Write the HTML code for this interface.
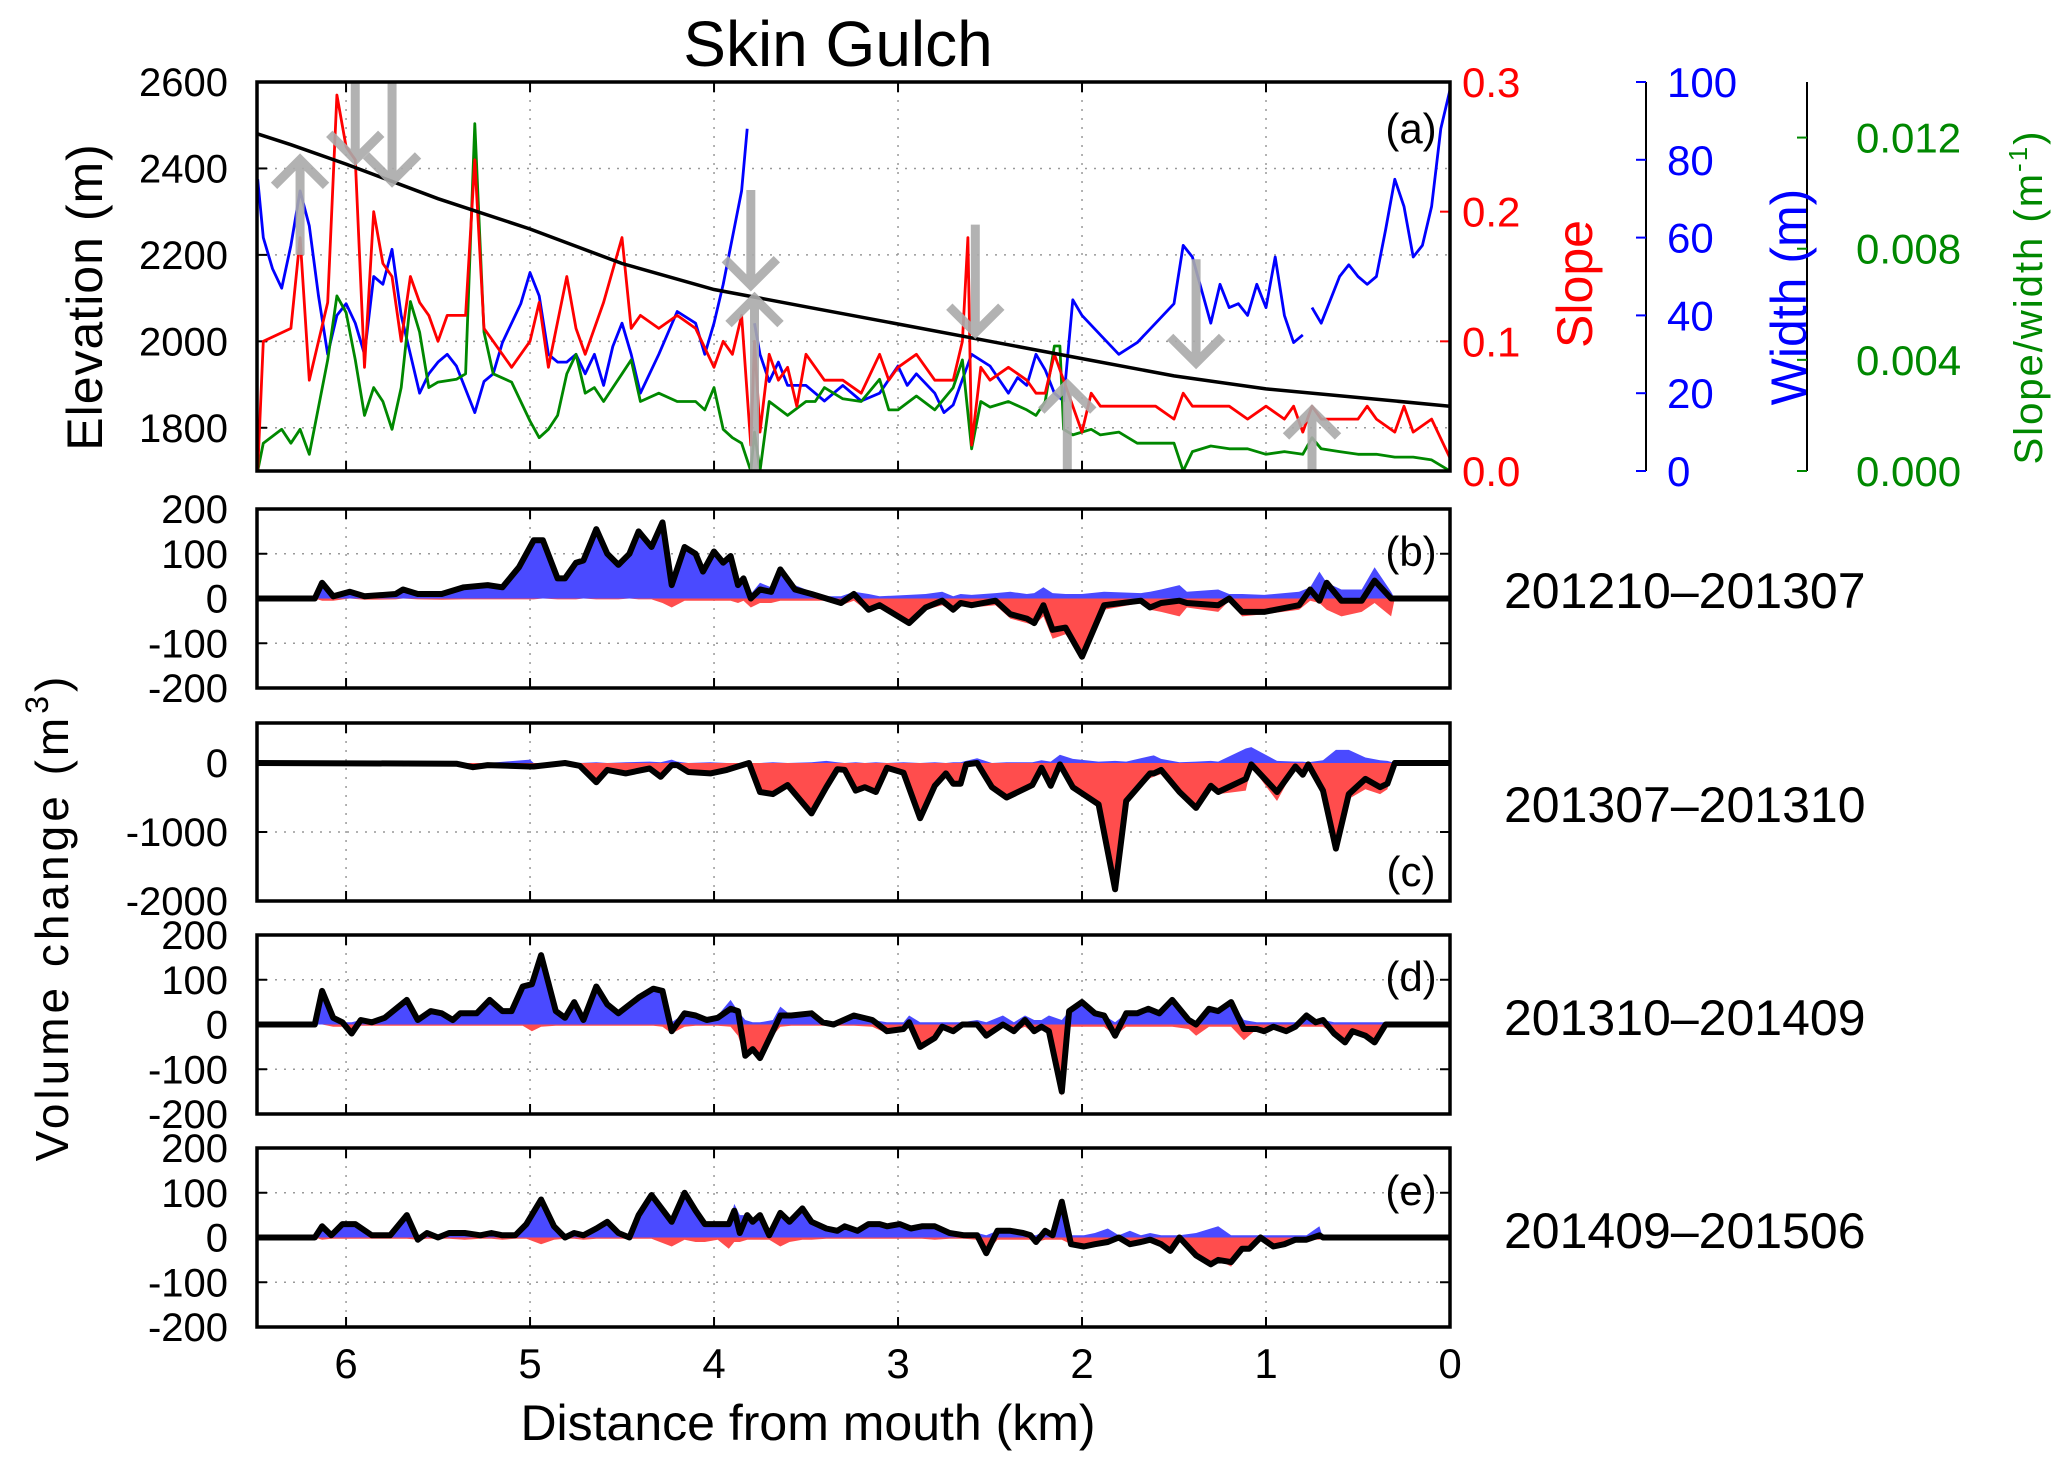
<!DOCTYPE html>
<html><head><meta charset="utf-8"><style>
html,body{margin:0;padding:0;background:#fff}
svg{display:block;font-family:"Liberation Sans",Arial,sans-serif}
</style></head><body>
<svg id="chart" width="2067" height="1467" viewBox="0 0 2067 1467" xmlns="http://www.w3.org/2000/svg">
<rect width="2067" height="1467" fill="#fff"/>
<defs>
<clipPath id="clipA"><rect x="257" y="82" width="1193" height="389"/></clipPath>
</defs>
<text x="838" y="66" font-size="64" text-anchor="middle">Skin Gulch</text>
<g id="gA"></g>
<g id="gB"></g>
<g id="gC"></g>
<g id="gD"></g>
<g id="gE"></g>
<text transform="translate(102,297) rotate(-90)" font-size="50" text-anchor="middle" letter-spacing="1">Elevation (m)</text>
<text transform="translate(68,917) rotate(-90)" font-size="46" text-anchor="middle" letter-spacing="4">Volume change (m<tspan font-size="32" dy="-20">3</tspan><tspan dy="20">)</tspan></text>
<text x="808" y="1440" font-size="50" text-anchor="middle">Distance from mouth (km)</text>
<text transform="translate(1592,284) rotate(-90)" font-size="50" fill="#f00" text-anchor="middle">Slope</text>
<text transform="translate(1806,297) rotate(-90)" font-size="50" fill="#00f" text-anchor="middle">Width (m)</text>
<text transform="translate(2042,297) rotate(-90)" font-size="40" fill="#080" text-anchor="middle" letter-spacing="2">Slope/width (m<tspan font-size="26" dy="-15">-1</tspan><tspan dy="15">)</tspan></text>
<text x="1504" y="608" font-size="50">201210–201307</text>
<text x="1504" y="822" font-size="50">201307–201310</text>
<text x="1504" y="1035" font-size="50">201310–201409</text>
<text x="1504" y="1248" font-size="50">201409–201506</text>
</svg>
<script>
const NS="http://www.w3.org/2000/svg";
// ---- Panel (a) data ----
const elevKm=[6.48,6.3,6,5.5,5,4.5,4,3.5,3,2.5,2,1.5,1,0.5,0];
const elev=[2480,2455,2410,2330,2260,2180,2120,2080,2040,2000,1960,1920,1890,1870,1850];
const slopeKm=[6.48,6.45,6.3,6.25,6.2,6.15,6.1,6.05,6.0,5.95,5.9,5.85,5.8,5.75,5.7,5.65,5.6,5.55,5.5,5.45,5.35,5.3,5.25,5.2,5.1,5.0,4.95,4.9,4.8,4.75,4.7,4.6,4.5,4.45,4.4,4.3,4.2,4.1,4.0,3.95,3.9,3.85,3.8,3.78,3.75,3.7,3.65,3.6,3.55,3.5,3.4,3.3,3.2,3.1,3.05,3.0,2.9,2.8,2.7,2.65,2.62,2.6,2.55,2.5,2.4,2.3,2.25,2.2,2.15,2.1,2.05,2.0,1.95,1.9,1.8,1.7,1.6,1.5,1.45,1.4,1.3,1.2,1.1,1.0,0.9,0.85,0.8,0.75,0.7,0.6,0.5,0.45,0.4,0.3,0.25,0.2,0.1,0.0];
const slope=[0.0,0.1,0.11,0.18,0.07,0.1,0.13,0.29,0.25,0.24,0.08,0.2,0.16,0.15,0.1,0.15,0.13,0.12,0.1,0.12,0.12,0.24,0.11,0.1,0.08,0.1,0.13,0.08,0.15,0.11,0.09,0.13,0.18,0.11,0.12,0.11,0.12,0.11,0.08,0.1,0.09,0.12,0.02,0.1,0.03,0.09,0.07,0.08,0.05,0.09,0.07,0.07,0.06,0.09,0.07,0.08,0.09,0.07,0.07,0.1,0.18,0.02,0.08,0.07,0.08,0.07,0.06,0.06,0.09,0.07,0.05,0.03,0.06,0.05,0.05,0.05,0.05,0.04,0.06,0.05,0.05,0.05,0.04,0.05,0.04,0.05,0.03,0.05,0.04,0.04,0.04,0.05,0.04,0.03,0.05,0.03,0.04,0.01];
const widthKm=[6.48,6.45,6.4,6.35,6.3,6.25,6.2,6.15,6.1,6.05,6.0,5.95,5.9,5.85,5.8,5.75,5.7,5.65,5.6,5.55,5.5,5.45,5.4,5.3,5.25,5.2,5.15,5.05,5.0,4.95,4.9,4.85,4.8,4.75,4.7,4.65,4.6,4.55,4.5,4.45,4.4,4.3,4.2,4.1,4.05,4.0,3.95,3.9,3.85,3.82,3.81,3.78,3.75,3.7,3.65,3.6,3.5,3.45,3.4,3.3,3.2,3.1,3.0,2.95,2.9,2.8,2.75,2.7,2.6,2.5,2.4,2.35,2.3,2.25,2.2,2.15,2.1,2.05,2.0,1.9,1.8,1.7,1.6,1.5,1.45,1.4,1.3,1.25,1.2,1.15,1.1,1.05,1.0,0.95,0.9,0.85,0.8,0.78,0.75,0.7,0.6,0.55,0.5,0.45,0.4,0.35,0.3,0.25,0.2,0.15,0.1,0.05,0.0];
const widthVals=[75,60,52,47,58,72,63,45,30,40,43,38,30,50,48,57,40,30,20,25,28,30,27,15,23,25,33,43,51,45,30,28,28,30,25,30,22,32,38,30,20,30,41,38,30,38,48,60,72,88,null,38,30,23,28,22,22,20,18,22,18,20,27,22,25,20,15,17,30,27,20,24,22,30,26,20,18,44,40,35,30,33,38,43,58,55,38,48,42,43,40,48,42,55,40,33,35,null,42,38,50,53,50,48,50,62,75,68,55,58,68,88,98];
const swKm=[6.48,6.45,6.35,6.3,6.25,6.2,6.1,6.05,6.0,5.95,5.9,5.85,5.8,5.75,5.7,5.65,5.6,5.55,5.5,5.4,5.35,5.3,5.25,5.2,5.1,5.0,4.95,4.9,4.85,4.8,4.75,4.7,4.65,4.6,4.5,4.45,4.4,4.3,4.2,4.1,4.05,4.0,3.95,3.9,3.85,3.8,3.78,3.75,3.7,3.6,3.5,3.45,3.4,3.35,3.3,3.2,3.1,3.05,3.0,2.9,2.8,2.7,2.65,2.6,2.55,2.5,2.4,2.3,2.25,2.2,2.15,2.12,2.1,2.05,1.95,1.9,1.8,1.7,1.6,1.5,1.45,1.4,1.3,1.2,1.1,1.0,0.9,0.8,0.75,0.7,0.6,0.5,0.4,0.3,0.2,0.1,0.0];
const sw=[0.0,0.001,0.0015,0.001,0.0015,0.0006,0.004,0.0063,0.0057,0.004,0.002,0.003,0.0025,0.0015,0.003,0.0061,0.005,0.003,0.0032,0.0033,0.0035,0.0125,0.005,0.0035,0.0032,0.0018,0.0012,0.0015,0.002,0.0035,0.0042,0.0028,0.003,0.0025,0.0035,0.004,0.0025,0.0028,0.0025,0.0025,0.0022,0.003,0.0015,0.0012,0.001,0.0,0.0014,0.0,0.0025,0.002,0.0025,0.0025,0.003,0.0028,0.0026,0.0025,0.0033,0.0022,0.0022,0.0027,0.0022,0.003,0.004,0.0008,0.0025,0.0023,0.0025,0.0022,0.002,0.0025,0.0045,0.0045,0.0015,0.0013,0.0015,0.0013,0.0014,0.001,0.001,0.001,0.0,0.0007,0.0009,0.0008,0.0008,0.0006,0.0007,0.0006,0.0012,0.0008,0.0007,0.0006,0.0006,0.0005,0.0005,0.0004,0.0];
const arrowKm=[6.25,5.95,5.75,3.8,3.78,2.58,2.08,1.38,0.75];
const arrowFrom=[2200,2600,2600,2350,1700,2270,1700,2190,1700];
const arrowTo=[2420,2420,2370,2130,2100,2020,1900,1950,1840];
// ---- Panel (b) ----
const kmB=[6.48,6.17,6.13,6.07,5.98,5.90,5.73,5.69,5.61,5.48,5.36,5.23,5.15,5.06,4.98,4.93,4.85,4.81,4.75,4.71,4.64,4.58,4.52,4.46,4.41,4.34,4.28,4.23,4.16,4.10,4.06,4.00,3.95,3.91,3.87,3.84,3.80,3.75,3.69,3.64,3.56,3.47,3.39,3.31,3.24,3.16,3.10,2.94,2.85,2.76,2.70,2.66,2.60,2.47,2.39,2.30,2.26,2.21,2.16,2.09,2.00,1.88,1.68,1.63,1.57,1.47,1.43,1.26,1.20,1.13,1.01,0.82,0.76,0.71,0.67,0.59,0.48,0.41,0.32,0.30,0.0];
const netB=[0,0,35,5,15,5,10,20,10,10,25,30,25,70,130,130,45,45,80,85,155,100,75,100,150,115,170,30,115,100,60,105,80,95,30,45,0,20,15,65,20,10,0,-10,10,-25,-15,-55,-20,-5,-25,-10,-15,-5,-35,-45,-55,-15,-70,-65,-130,-15,-5,-20,-10,-5,-10,-15,0,-30,-30,-15,20,-5,35,-5,-5,40,0,0,0];
const posB=[0,0,35,10,15,8,12,20,12,12,27,32,27,72,132,132,47,47,82,87,157,102,77,102,152,117,172,32,117,102,62,107,82,97,40,50,10,35,25,65,30,15,5,5,15,10,5,8,10,15,5,10,8,12,15,10,12,25,12,10,10,15,12,15,20,30,15,20,10,10,8,15,25,60,35,20,20,70,15,0,0];
const negB=[0,0,-5,-5,0,-3,-2,0,-2,-3,-2,-2,-2,-2,-2,0,-2,-2,-2,0,-2,-2,-2,0,-2,-2,-10,-20,-5,-5,-5,-5,-5,-5,-10,-5,-20,-10,-10,-5,-5,-5,-5,-15,-5,-30,-20,-60,-25,-15,-30,-15,-20,-15,-45,-55,-60,-40,-90,-80,-130,-25,-10,-25,-30,-40,-20,-30,-5,-40,-35,-25,-5,-10,-25,-40,-30,-10,-40,0,0];
// ---- Panel (c) ----
const kmC=[6.48,5.40,5.31,5.23,5.00,4.98,4.81,4.73,4.64,4.58,4.48,4.35,4.29,4.23,4.20,4.14,4.02,3.93,3.81,3.75,3.68,3.60,3.47,3.39,3.33,3.29,3.23,3.18,3.12,3.06,2.97,2.88,2.80,2.74,2.70,2.66,2.63,2.57,2.49,2.41,2.27,2.22,2.17,2.12,2.05,1.91,1.82,1.76,1.63,1.61,1.57,1.47,1.38,1.30,1.26,1.11,1.08,0.94,0.84,0.80,0.77,0.69,0.62,0.55,0.46,0.38,0.34,0.30,0.0];
const netC=[0,-10,-60,-30,-50,-50,0,-40,-280,-100,-150,-80,-200,-30,-30,-130,-150,-100,0,-420,-450,-320,-730,-350,-90,-100,-400,-350,-420,-70,-140,-800,-330,-150,-300,-300,-20,0,-350,-500,-320,-70,-330,-20,-350,-600,-1830,-550,-150,-150,-100,-420,-650,-330,-420,-230,-20,-420,-50,-170,-20,-400,-1240,-450,-230,-350,-300,0,0];
const posC=[0,0,0,0,50,0,0,0,10,0,10,20,10,50,20,0,10,0,0,0,10,0,10,30,10,0,10,0,10,0,10,0,10,0,10,10,30,70,0,10,10,40,20,120,60,20,30,20,100,110,60,10,20,30,20,210,230,30,20,20,10,40,190,190,80,40,30,0,0];
const negC=[0,-10,-60,-30,-50,-50,-10,-40,-280,-100,-150,-80,-200,-40,-40,-130,-150,-110,-10,-420,-450,-330,-730,-350,-100,-100,-400,-350,-420,-80,-140,-800,-330,-150,-300,-300,-30,-20,-350,-500,-330,-80,-330,-30,-360,-600,-1830,-550,-220,-200,-160,-430,-650,-340,-450,-400,-50,-550,-60,-180,-40,-400,-1240,-520,-380,-450,-380,0,0];
// ---- Panel (d) ----
const kmD=[6.48,6.17,6.13,6.07,6.02,5.97,5.92,5.86,5.79,5.67,5.61,5.54,5.48,5.42,5.38,5.29,5.22,5.15,5.10,5.04,4.99,4.94,4.86,4.81,4.76,4.71,4.64,4.58,4.52,4.41,4.33,4.28,4.23,4.16,4.10,4.04,3.98,3.91,3.87,3.83,3.79,3.75,3.68,3.64,3.58,3.47,3.41,3.35,3.24,3.14,3.06,2.97,2.94,2.88,2.80,2.76,2.70,2.65,2.57,2.52,2.43,2.37,2.31,2.26,2.22,2.18,2.11,2.07,2.00,1.93,1.88,1.82,1.76,1.70,1.64,1.58,1.51,1.42,1.38,1.31,1.26,1.19,1.12,1.05,1.01,0.96,0.89,0.84,0.78,0.73,0.69,0.63,0.57,0.53,0.46,0.41,0.35,0.0];
const netD=[0,0,75,15,5,-20,10,5,15,55,10,30,25,10,25,25,55,30,30,85,90,155,30,15,50,10,85,45,25,60,80,75,-15,25,20,10,15,35,30,-70,-55,-75,-15,20,20,25,5,0,20,10,-15,-10,5,-50,-30,-5,-15,0,0,-25,0,-15,10,-15,-5,-15,-150,30,50,25,20,-25,25,25,35,25,55,10,0,35,30,50,-10,-10,-15,-5,-15,-5,20,5,10,-20,-40,-15,-25,-40,0,0];
const posD=[0,0,75,15,5,5,10,5,15,55,10,30,25,10,25,25,55,30,30,85,90,155,30,15,50,10,85,45,25,60,80,75,5,25,20,10,20,55,30,10,5,5,10,40,20,25,5,5,20,10,5,5,20,5,5,5,5,5,10,5,20,5,20,10,10,20,10,30,50,25,20,5,25,25,35,25,55,10,5,35,30,50,10,5,5,5,5,5,20,10,10,5,5,5,5,5,5,0];
const negD=[0,0,0,-5,-5,-20,-3,-3,-3,-3,-3,-3,-3,-3,-3,-3,-3,-3,-3,-3,-15,-5,-3,-3,-3,-3,-3,-3,-3,-3,-3,-5,-20,-5,-3,-3,-3,-5,-25,-75,-55,-80,-25,-5,-3,-3,-3,-3,-3,-5,-20,-15,-5,-50,-30,-10,-20,-5,-5,-30,-5,-15,-5,-20,-10,-20,-160,-5,-5,-5,-5,-25,-5,-5,-5,-5,-5,-10,-25,-5,-5,-5,-35,-10,-15,-5,-15,-5,-5,-5,-5,-20,-40,-15,-25,-40,-5,0];
// ---- Panel (e) ----
const kmE=[6.48,6.17,6.13,6.08,6.02,5.95,5.86,5.76,5.67,5.61,5.56,5.50,5.44,5.355,5.27,5.21,5.15,5.08,5.02,4.94,4.87,4.81,4.76,4.71,4.64,4.58,4.52,4.46,4.41,4.34,4.23,4.16,4.10,4.05,3.98,3.92,3.89,3.86,3.82,3.79,3.75,3.70,3.64,3.59,3.52,3.47,3.39,3.33,3.29,3.22,3.16,3.10,3.06,2.99,2.93,2.87,2.80,2.72,2.64,2.57,2.52,2.46,2.39,2.32,2.28,2.25,2.20,2.16,2.11,2.06,1.99,1.93,1.86,1.80,1.74,1.68,1.63,1.57,1.52,1.47,1.38,1.30,1.26,1.19,1.13,1.09,1.03,0.96,0.90,0.84,0.78,0.71,0.69,0.0];
const netE=[0,0,25,5,30,30,5,5,50,-5,10,0,10,10,5,10,5,5,30,85,25,0,10,5,20,35,10,0,50,95,35,100,60,30,30,30,60,10,50,35,50,5,55,35,65,35,20,15,25,15,30,30,25,30,20,25,25,10,5,5,-35,15,15,10,5,-10,15,5,80,-15,-20,-15,-10,0,-15,-10,-5,-15,-30,0,-40,-60,-50,-55,-25,-25,0,-20,-15,-5,-5,5,0,0];
const posE=[0,0,25,5,30,30,5,5,50,5,10,5,10,10,5,10,5,5,30,85,25,5,10,5,20,35,10,5,50,95,35,100,60,30,30,30,75,50,50,35,50,10,55,35,65,35,20,15,25,15,30,30,25,30,20,25,25,10,10,10,5,15,15,10,5,5,15,5,80,5,5,10,20,5,15,5,10,5,5,5,10,20,25,5,5,5,5,5,5,5,5,25,0,0];
const negE=[0,0,-5,-3,-3,-3,-3,-3,-3,-5,-3,-3,-3,-5,-3,-3,-5,-3,-3,-15,-5,-3,-3,-5,-3,-3,-3,-3,-3,-3,-20,-5,-10,-10,-5,-25,-10,-10,-5,-5,-5,-5,-20,-10,-5,-5,-3,-3,-3,-3,-3,-3,-3,-3,-3,-3,-5,-3,-3,-5,-35,-5,-5,-5,-5,-10,-5,-5,-5,-15,-20,-15,-10,-5,-15,-10,-10,-15,-30,-5,-40,-60,-50,-65,-25,-25,-5,-20,-15,-5,-5,-5,0,0];

const L=257,R=1450;
const KMAX=6.484;
const TICKFS=40;
function xs(km){return L+(KMAX-km)/KMAX*(R-L);}
function mk(tag,attrs,parent){const e=document.createElementNS(NS,tag);for(const k in attrs)e.setAttribute(k,attrs[k]);parent.appendChild(e);return e;}
function lin(d0,d1,r0,r1){return v=>r0+(v-d0)/(d1-d0)*(r1-r0);}
function pathFrom(kms,vals,ys){let d="",pen=false;for(let i=0;i<kms.length;i++){const v=vals[i];if(v===null||v===undefined){pen=false;continue;}d+=(pen?"L":"M")+xs(kms[i]).toFixed(1)+","+ys(v).toFixed(1);pen=true;}return d;}
const xTicks=[6,5,4,3,2,1,0];
function frame(g,T,B){
  for(const t of xTicks){ if(t===0)continue;
    const gl=mk("line",{x1:xs(t),x2:xs(t),y1:T,y2:B,stroke:"#999","stroke-width":1.5,"stroke-dasharray":"2,7"},g);
    
    
    mk("line",{x1:xs(t),x2:xs(t),y1:T,y2:T+10,stroke:"#000","stroke-width":2},g);
    mk("line",{x1:xs(t),x2:xs(t),y1:B,y2:B-10,stroke:"#000","stroke-width":2},g);
  }
}
function border(g,T,B){
  const r=mk("rect",{x:L,y:T,width:R-L,height:B-T,fill:"none",stroke:"#000","stroke-width":3.5},g);
  
  
}
function yTicksLeft(g,T,B,ticks,ys,labels,gridTicks){
  ticks.forEach((t,i)=>{
    const y=ys(t);
    if(gridTicks.includes(t)){
      const gl=mk("line",{x1:L,x2:R,y1:y,y2:y,stroke:"#999","stroke-width":1.5,"stroke-dasharray":"2,7"},g);
      
      
    }
    mk("line",{x1:L,x2:L+10,y1:y,y2:y,stroke:"#000","stroke-width":2},g);
    mk("line",{x1:R,x2:R-10,y1:y,y2:y,stroke:"#000","stroke-width":2},g);
    const tx=mk("text",{x:228,y:y+14,"font-size":TICKFS,"text-anchor":"end"},g);
    tx.textContent=labels[i];
    
    
  });
}
// ---- Panel A ----
(function(){
  const g=document.getElementById("gA"),T=82,B=471;
  const yE=lin(1700,2600,B,T), yS=lin(0,0.3,B,T), yW=lin(0,100,B,T), ySW=lin(0,0.014,B,T);
  frame(g,T,B);
  const eT=[1800,2000,2200,2400,2600];
  eT.forEach(t=>{const y=yE(t);
    if(t<2600){const gl=mk("line",{x1:L,x2:R,y1:y,y2:y,stroke:"#999","stroke-width":1.5,"stroke-dasharray":"2,7"},g);
    
    }
    mk("line",{x1:L,x2:L+10,y1:y,y2:y,stroke:"#000","stroke-width":2},g);
    const tx=mk("text",{x:228,y:y+14,"font-size":TICKFS,"text-anchor":"end"},g);tx.textContent=t;
    
    });
  [0,0.1,0.2,0.3].forEach(t=>{const y=yS(t);
    mk("line",{x1:R,x2:R-10,y1:y,y2:y,stroke:"#f00","stroke-width":2},g);
    const tx=mk("text",{x:1462,y:y+15,"font-size":42,fill:"#f00"},g);tx.textContent=t.toFixed(1);
    
    });
  mk("line",{x1:1646,x2:1646,y1:T,y2:B,stroke:"#000","stroke-width":2},g);
  [0,20,40,60,80,100].forEach(t=>{const y=yW(t);
    mk("line",{x1:1636,x2:1646,y1:y,y2:y,stroke:"#00f","stroke-width":2},g);
    const tx=mk("text",{x:1667,y:y+15,"font-size":42,fill:"#00f"},g);tx.textContent=t;
    
    });
  mk("line",{x1:1807,x2:1807,y1:T,y2:B,stroke:"#000","stroke-width":2},g);
  [0,0.004,0.008,0.012].forEach(t=>{const y=ySW(t);
    mk("line",{x1:1797,x2:1807,y1:y,y2:y,stroke:"#080","stroke-width":2},g);
    const tx=mk("text",{x:1856,y:y+15,"font-size":42,fill:"#080"},g);tx.textContent=t.toFixed(3);
    
    });
  const c=mk("g",{"clip-path":"url(#clipA)"},g);
  const lw=mk("path",{d:pathFrom(widthKm,widthVals,yW),fill:"none",stroke:"#00f","stroke-width":2.8,"stroke-linejoin":"round"},c);
  
  
  const lg=mk("path",{d:pathFrom(swKm,sw,ySW),fill:"none",stroke:"#080","stroke-width":2.8,"stroke-linejoin":"round"},c);
  
  
  const lr=mk("path",{d:pathFrom(slopeKm,slope,yS),fill:"none",stroke:"#f00","stroke-width":2.8,"stroke-linejoin":"round"},c);
  
  
  const le=mk("path",{d:pathFrom(elevKm,elev,yE),fill:"none",stroke:"#000","stroke-width":3.5},c);
  
  
  arrowKm.forEach((k,i)=>{
    const x=xs(k),y0=yE(arrowFrom[i]),y1=yE(arrowTo[i]);const dir=y1>y0?1:-1;
    const a=mk("path",{d:`M${x},${y0}L${x},${y1}M${x-26},${y1-dir*26}L${x},${y1}L${x+26},${y1-dir*26}`,fill:"none",stroke:"#aaa","stroke-width":9,opacity:0.9},c);
    
    
  });
  border(g,T,B);
  const pl=mk("text",{x:1411,y:143,"font-size":42,"text-anchor":"middle"},g);pl.textContent="(a)";
  
  
})();
function volPanel(id,T,B,ymin,ymax,ticks,labels,km,net,pos,neg,lab,labY){
  const g=document.getElementById(id);
  const ys=lin(ymin,ymax,B,T);
  frame(g,T,B);
  yTicksLeft(g,T,B,ticks,ys,labels,ticks.filter(t=>t!==ymin&&t!==ymax&&t!==0));
  const y0=ys(0);
  let dp=`M${xs(km[0])},${y0}`;km.forEach((k,i)=>dp+=`L${xs(k).toFixed(1)},${ys(pos[i]).toFixed(1)}`);dp+=`L${xs(km[km.length-1])},${y0}Z`;
  const fp=mk("path",{d:dp,fill:"#4a4aff",stroke:"none"},g);
  
  
  let dn=`M${xs(km[0])},${y0}`;km.forEach((k,i)=>dn+=`L${xs(k).toFixed(1)},${ys(neg[i]).toFixed(1)}`);dn+=`L${xs(km[km.length-1])},${y0}Z`;
  const fn=mk("path",{d:dn,fill:"#ff4d4d",stroke:"none"},g);
  
  
  const ln=mk("path",{d:pathFrom(km,net,ys),fill:"none",stroke:"#000","stroke-width":6,"stroke-linejoin":"round"},g);
  
  
  border(g,T,B);
  const pl=mk("text",{x:1411,y:labY,"font-size":42,"text-anchor":"middle"},g);pl.textContent=lab;
  
  
}
volPanel("gB",509,688,-200,200,[200,100,0,-100,-200],["200","100","0","-100","-200"],kmB,netB,posB,negB,"(b)",566);
volPanel("gC",723,901,-2000,580,[0,-1000,-2000],["0","-1000","-2000"],kmC,netC,posC,negC,"(c)",886);
volPanel("gD",935,1114,-200,200,[200,100,0,-100,-200],["200","100","0","-100","-200"],kmD,netD,posD,negD,"(d)",991);
volPanel("gE",1148,1327,-200,200,[200,100,0,-100,-200],["200","100","0","-100","-200"],kmE,netE,posE,negE,"(e)",1205);
const svg=document.getElementById("chart");
xTicks.forEach(t=>{const tx=mk("text",{x:xs(t),y:1378,"font-size":42,"text-anchor":"middle"},svg);tx.textContent=t;

});
</script>
</body></html>
